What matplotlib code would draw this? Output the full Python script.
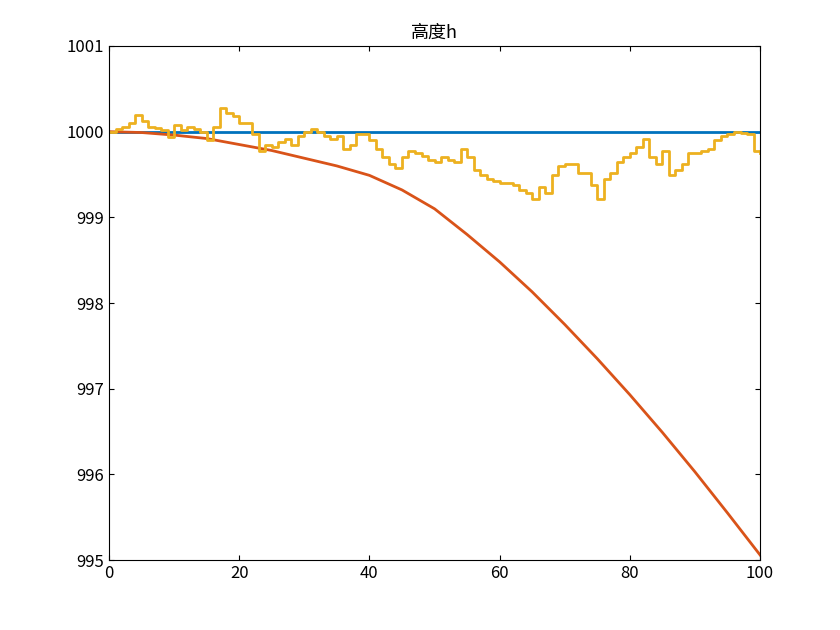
import numpy as np
import matplotlib

matplotlib.use("Agg")
import matplotlib.pyplot as plt

plt.rcParams["font.family"] = ["Noto Sans CJK SC", "DejaVu Sans"]

# measured height: deviation from 1000 at t = 0..100 (step held)
t_meas = np.arange(0, 101)
meas_dev = [
    0, 0.03, 0.06, 0.1, 0.2, 0.12, 0.05, 0.04, 0.02, -0.06,
    0.08, 0.02, 0.06, 0.03, 0.0, -0.1, 0.05, 0.28, 0.22, 0.18,
    0.1, 0.1, -0.03, -0.22, -0.15, -0.18, -0.12, -0.08, -0.15, -0.05,
    0.0, 0.03, 0.0, -0.05, -0.08, -0.05, -0.2, -0.15, -0.03, -0.03,
    -0.1, -0.2, -0.3, -0.38, -0.42, -0.3, -0.22, -0.25, -0.28, -0.33,
    -0.35, -0.3, -0.33, -0.35, -0.2, -0.3, -0.45, -0.5, -0.55, -0.58,
    -0.6, -0.6, -0.62, -0.68, -0.72, -0.78, -0.65, -0.72, -0.5, -0.4,
    -0.38, -0.38, -0.48, -0.48, -0.62, -0.78, -0.55, -0.48, -0.35, -0.3,
    -0.25, -0.18, -0.08, -0.3, -0.38, -0.22, -0.5, -0.45, -0.38, -0.25,
    -0.25, -0.22, -0.2, -0.1, -0.05, -0.03, 0.0, -0.02, -0.03, -0.22,
    -0.25,
]
h_meas = 1000 + np.array(meas_dev)

# true and estimated height
t_curve = [0, 5, 10, 15, 20, 25, 30, 35, 40, 45, 50, 55, 60, 65, 70, 75, 80, 85, 90, 95, 100]
h_est = [1000, 999.99, 999.96, 999.92, 999.85, 999.78, 999.69, 999.6, 999.49, 999.32,
         999.1, 998.8, 998.48, 998.13, 997.75, 997.35, 996.93, 996.49, 996.03, 995.55, 995.06]
t_ref = [0, 100]
h_ref = [1000, 1000]

fig = plt.figure(figsize=(8.4, 6.3), dpi=100)
ax = fig.add_axes([0.1298, 0.111, 0.775, 0.816])

ax.plot(t_ref, h_ref, color="#0072BD", linewidth=2)
ax.plot(t_curve, h_est, color="#D95319", linewidth=2)
ax.step(t_meas, h_meas, where="post", color="#EDB120", linewidth=2)

ax.set_xlim(0, 100)
ax.set_ylim(995, 1001)
ax.set_xticks([0, 20, 40, 60, 80, 100])
ax.set_yticks([995, 996, 997, 998, 999, 1000, 1001])
ax.tick_params(direction="in", labelsize=12, top=True, right=True)
ax.set_title("高度h", fontsize=13)

fig.savefig("out.png")
